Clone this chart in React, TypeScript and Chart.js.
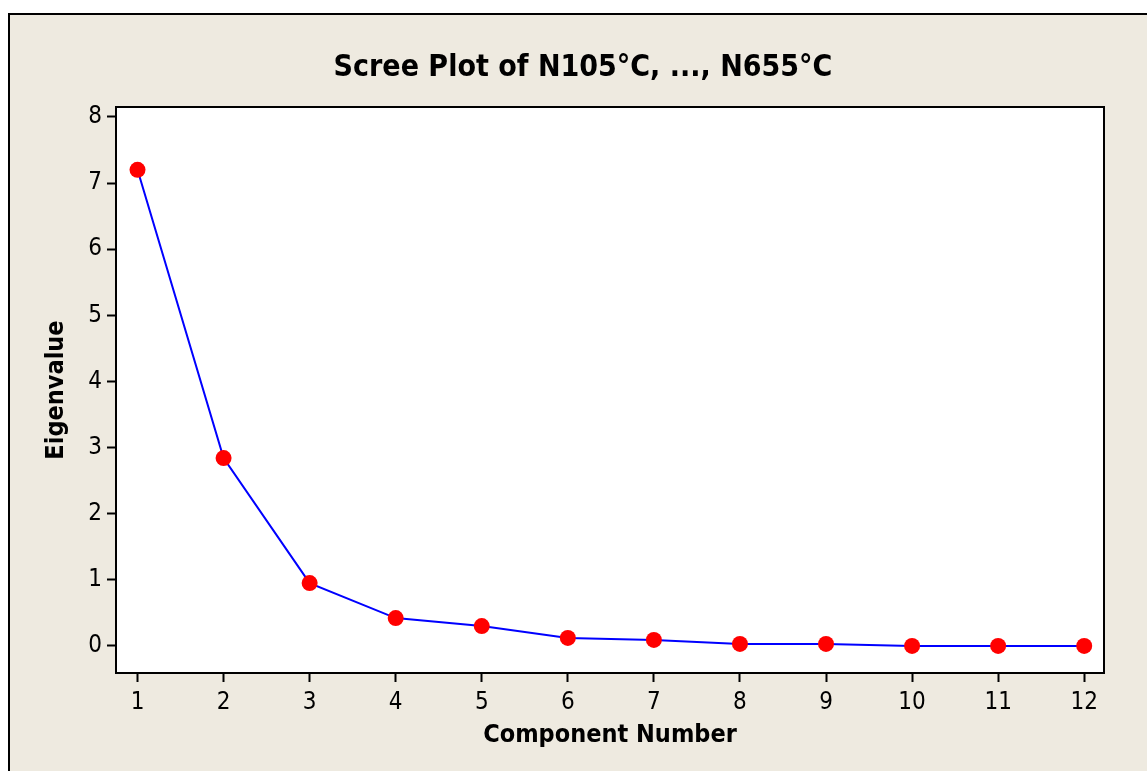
import React, { useEffect, useRef } from "react";
import { Chart, registerables } from "chart.js";

Chart.register(...registerables);

const components = [1, 2, 3, 4, 5, 6, 7, 8, 9, 10, 11, 12];
const eigenvalues = [7.2, 2.84, 0.95, 0.42, 0.3, 0.12, 0.09, 0.03, 0.03, 0.0, 0.0, 0.0];
const xTickValues = [1, 2, 3, 4, 5, 6, 7, 8, 9, 10, 11, 12];
const yTickValues = [0, 1, 2, 3, 4, 5, 6, 7, 8];
const titleText = "Scree Plot of N105°C, ..., N655°C";
const xTitle = "Component Number";
const yTitle = "Eigenvalue";

const W = 1147;
const H = 771;
const FONT = "'DejaVu Sans Condensed', 'DejaVu Sans', sans-serif";

const framePlugin = {
  id: "frame",
  beforeDraw(chart: any) {
    const ctx = chart.ctx;
    const { left, top, right, bottom } = chart.chartArea;
    ctx.save();
    ctx.fillStyle = "#ffffff";
    ctx.fillRect(0, 0, W, H);
    ctx.fillStyle = "#EEEAE0";
    ctx.fillRect(8, 13, W - 8, H - 13);
    ctx.strokeStyle = "#000000";
    ctx.lineWidth = 2;
    ctx.beginPath();
    ctx.moveTo(9, H);
    ctx.lineTo(9, 14);
    ctx.lineTo(W, 14);
    ctx.stroke();
    ctx.fillStyle = "#ffffff";
    ctx.fillRect(left, top, right - left, bottom - top);
    ctx.fillStyle = "#000000";
    ctx.font = "bold 30px " + FONT;
    ctx.textAlign = "center";
    ctx.textBaseline = "middle";
    ctx.fillText(titleText, 583, 68);
    ctx.restore();
  },
  afterDatasetsDraw(chart: any) {
    const ctx = chart.ctx;
    const { left, top, right, bottom } = chart.chartArea;
    ctx.save();
    ctx.strokeStyle = "#000000";
    ctx.lineWidth = 2;
    ctx.strokeRect(left, top, right - left, bottom - top);
    ctx.restore();
  },
};

export default function App() {
  const ref = useRef<HTMLCanvasElement | null>(null);
  useEffect(() => {
    if (!ref.current) return;
    const chart = new Chart(ref.current, {
      type: "line",
      data: {
        datasets: [
          {
            data: components.map((c, i) => ({ x: c, y: eigenvalues[i] })),
            borderColor: "#0000FF",
            borderWidth: 2,
            pointBackgroundColor: "#FF0000",
            pointBorderColor: "#FF0000",
            pointRadius: 8,
            pointBorderWidth: 0,
            tension: 0,
            fill: false,
          },
        ],
      },
      options: {
        responsive: false,
        animation: false,
        devicePixelRatio: 1,
        layout: { padding: { left: 0, right: 43, top: 107, bottom: 0 } },
        plugins: {
          legend: { display: false },
          tooltip: { enabled: false },
          title: { display: false },
        },
        scales: {
          x: {
            type: "linear",
            min: 0.75,
            max: 12.23,
            afterBuildTicks: (scale: any) => {
              scale.ticks = xTickValues.map((v) => ({ value: v }));
            },
            afterFit: (scale: any) => {
              scale.height = 98;
            },
            grid: {
              drawOnChartArea: false,
              drawTicks: true,
              tickLength: 9,
              tickColor: "#000000",
              tickWidth: 2,
            },
            border: { display: false },
            ticks: {
              color: "#000000",
              font: { family: FONT, size: 24 },
              padding: 6,
              autoSkip: false,
              maxRotation: 0,
              callback: (v: any) => String(v),
            },
            title: {
              display: true,
              text: xTitle,
              color: "#000000",
              font: { family: FONT, size: 25, weight: "bold", lineHeight: 1.2 },
              padding: { top: 0, bottom: 21 },
            },
          },
          y: {
            type: "linear",
            min: -0.41,
            max: 8.15,
            afterBuildTicks: (scale: any) => {
              scale.ticks = yTickValues.map((v) => ({ value: v }));
            },
            afterFit: (scale: any) => {
              scale.width = 116;
            },
            grid: {
              drawOnChartArea: false,
              drawTicks: true,
              tickLength: 9,
              tickColor: "#000000",
              tickWidth: 2,
            },
            border: { display: false },
            ticks: {
              color: "#000000",
              font: { family: FONT, size: 24 },
              padding: 5,
              callback: (v: any) => String(v),
            },
            title: {
              display: true,
              text: yTitle,
              color: "#000000",
              font: { family: FONT, size: 25, weight: "bold", lineHeight: 1.2 },
              padding: { top: 41, bottom: 0 },
            },
          },
        },
      },
      plugins: [framePlugin],
    } as any);
    return () => chart.destroy();
  }, []);
  return (
    <div style={{ position: "fixed", left: 0, top: 0, width: W, height: H }}>
      <canvas ref={ref} width={W} height={H} style={{ width: W, height: H, display: "block" }} />
    </div>
  );
}
